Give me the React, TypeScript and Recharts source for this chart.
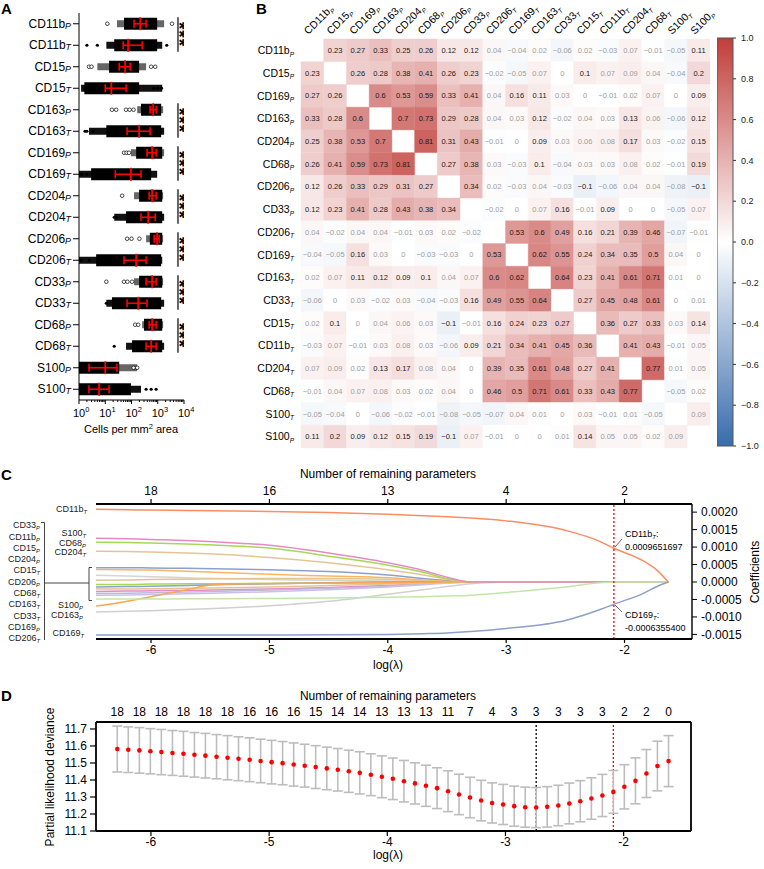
import React from 'react';
import {
  ScatterChart, Scatter, LineChart, Line, XAxis, YAxis, ErrorBar,
  ReferenceArea, ReferenceLine,
} from 'recharts';

const FONT = '"Liberation Sans", Arial, Helvetica, sans-serif';

// ---------- A: cells per mm2 ----------
const A_MARKERS = ['CD11bP', 'CD11bT', 'CD15P', 'CD15T', 'CD163P', 'CD163T', 'CD169P', 'CD169T', 'CD204P', 'CD204T',
  'CD206P', 'CD206T', 'CD33P', 'CD33T', 'CD68P', 'CD68T', 'S100P', 'S100T'];
const A_LOW = [28, 11, 5, 1.2, 165, 2.4, 95, 1, 125, 22, 360, 1, 125, 11, 255, 62, 1, 1];
const A_CORE_LOW = [52, 22, 14, 1.6, 230, 11, 150, 2.9, 195, 62, 500, 4.5, 195, 18, 300, 105, 1, 1];
const A_Q1 = [125, 48, 34, 10, 510, 68, 390, 24, 470, 230, 730, 52, 360, 68, 470, 360, 2.4, 2.4];
const A_MEDIAN = [215, 74, 57, 17, 670, 195, 610, 95, 610, 430, 950, 150, 610, 180, 610, 560, 10, 5.8];
const A_Q3 = [360, 255, 89, 62, 870, 510, 870, 230, 870, 800, 1130, 360, 870, 390, 870, 870, 28, 14];
const A_CORE_HIGH = [950, 950, 195, 195, 1350, 1350, 1480, 560, 1480, 1480, 1480, 1350, 1480, 1350, 1480, 1480, 34, 95];
const A_HIGH = [1750, 1480, 360, 1480, 1600, 1750, 1750, 950, 1600, 1750, 1600, 1480, 1600, 1750, 1600, 1750, 165, 230];
// isolated points [row, cells/mm2]
const A_POINTS = [
  [0, 12], [0, 3500], [1, 2], [1, 5], [1, 2200], [2, 2.4], [2, 3], [2, 560], [2, 800],
  [3, 700], [3, 1000], [3, 1400], [4, 18], [4, 26], [4, 62], [4, 85], [4, 120],
  [5, 1.7], [5, 2], [5, 3.5], [6, 52], [6, 65], [6, 80], [7, 1.05], [7, 1.3], [7, 2],
  [8, 44], [9, 22], [9, 28], [10, 68], [10, 100], [10, 200], [11, 1.05], [11, 1.2], [11, 2.5],
  [12, 11], [12, 52], [12, 70], [12, 105], [13, 11], [14, 138], [14, 180], [15, 22],
  [16, 120], [16, 165], [17, 360], [17, 560], [17, 870],
];
const A_SIG_ROWS = [0, 4, 6, 8, 10, 12, 14];
const A_TICKS = [1, 2, 3, 4, 5, 6, 7, 8, 9, 10, 20, 30, 40, 50, 60, 70, 80, 90, 100, 200, 300, 400, 500, 600, 700, 800, 900,
  1000, 2000, 3000, 4000, 5000, 6000, 7000, 8000, 9000, 10000];

// ---------- B: correlation heatmap ----------
const B_MARKERS = ['CD11bP', 'CD15P', 'CD169P', 'CD163P', 'CD204P', 'CD68P', 'CD206P', 'CD33P', 'CD206T', 'CD169T',
  'CD163T', 'CD33T', 'CD15T', 'CD11bT', 'CD204T', 'CD68T', 'S100T', 'S100P'];
const B_CORR = [
  [null, 0.23, 0.27, 0.33, 0.25, 0.26, 0.12, 0.12, 0.04, -0.04, 0.02, -0.06, 0.02, -0.03, 0.07, -0.01, -0.05, 0.11],
  [0.23, null, 0.26, 0.28, 0.38, 0.41, 0.26, 0.23, -0.02, -0.05, 0.07, 0, 0.1, 0.07, 0.09, 0.04, -0.04, 0.2],
  [0.27, 0.26, null, 0.6, 0.53, 0.59, 0.33, 0.41, 0.04, 0.16, 0.11, 0.03, 0, -0.01, 0.02, 0.07, 0, 0.09],
  [0.33, 0.28, 0.6, null, 0.7, 0.73, 0.29, 0.28, 0.04, 0.03, 0.12, -0.02, 0.04, 0.03, 0.13, 0.06, -0.06, 0.12],
  [0.25, 0.38, 0.53, 0.7, null, 0.81, 0.31, 0.43, -0.01, 0, 0.09, 0.03, 0.06, 0.08, 0.17, 0.03, -0.02, 0.15],
  [0.26, 0.41, 0.59, 0.73, 0.81, null, 0.27, 0.38, 0.03, -0.03, 0.1, -0.04, 0.03, 0.03, 0.08, 0.02, -0.01, 0.19],
  [0.12, 0.26, 0.33, 0.29, 0.31, 0.27, null, 0.34, 0.02, -0.03, 0.04, -0.03, -0.1, -0.06, 0.04, 0.04, -0.08, -0.1],
  [0.12, 0.23, 0.41, 0.28, 0.43, 0.38, 0.34, null, -0.02, 0, 0.07, 0.16, -0.01, 0.09, 0, 0, -0.05, 0.07],
  [0.04, -0.02, 0.04, 0.04, -0.01, 0.03, 0.02, -0.02, null, 0.53, 0.6, 0.49, 0.16, 0.21, 0.39, 0.46, -0.07, -0.01],
  [-0.04, -0.05, 0.16, 0.03, 0, -0.03, -0.03, 0, 0.53, null, 0.62, 0.55, 0.24, 0.34, 0.35, 0.5, 0.04, 0],
  [0.02, 0.07, 0.11, 0.12, 0.09, 0.1, 0.04, 0.07, 0.6, 0.62, null, 0.64, 0.23, 0.41, 0.61, 0.71, 0.01, 0],
  [-0.06, 0, 0.03, -0.02, 0.03, -0.04, -0.03, 0.16, 0.49, 0.55, 0.64, null, 0.27, 0.45, 0.48, 0.61, 0, 0.01],
  [0.02, 0.1, 0, 0.04, 0.06, 0.03, -0.1, -0.01, 0.16, 0.24, 0.23, 0.27, null, 0.36, 0.27, 0.33, 0.03, 0.14],
  [-0.03, 0.07, -0.01, 0.03, 0.08, 0.03, -0.06, 0.09, 0.21, 0.34, 0.41, 0.45, 0.36, null, 0.41, 0.43, -0.01, 0.05],
  [0.07, 0.09, 0.02, 0.13, 0.17, 0.08, 0.04, 0, 0.39, 0.35, 0.61, 0.48, 0.27, 0.41, null, 0.77, 0.01, 0.05],
  [-0.01, 0.04, 0.07, 0.08, 0.03, 0.02, 0.04, 0, 0.46, 0.5, 0.71, 0.61, 0.33, 0.43, 0.77, null, -0.05, 0.02],
  [-0.05, -0.04, 0, -0.06, -0.02, -0.01, -0.08, -0.05, -0.07, 0.04, 0.01, 0, 0.03, -0.01, 0.01, -0.05, null, 0.09],
  [0.11, 0.2, 0.09, 0.12, 0.15, 0.19, -0.1, 0.07, -0.01, 0, 0, 0.01, 0.14, 0.05, 0.05, 0.02, 0.09, null],
];
// not significant although |r| >= 0.09
const B_GRAY_PAIRS = [[1, 14], [14, 1], [16, 17], [17, 16]];
const B_BAR_TICKS = [1, 0.8, 0.6, 0.4, 0.2, 0, -0.2, -0.4, -0.6, -0.8, -1];

// ---------- C: lasso coefficient paths ----------
const C_LAMBDA = [-6.465, -6.2, -6.0, -5.7, -5.47, -5.0, -4.5, -4.0, -3.7, -3.5, -3.3, -3.0, -2.5, -2.2, -2.09, -1.85, -1.72, -1.63];
const C_CD33P = [0.00041, 0.00041, 0.0004, 0.00039, 0.00038, 0.00035, 0.0003, 0.0002, 0.0001, 0.00004, 0, 0, 0, 0, 0, 0, 0, 0];
const C_CD11BP = [0.00036, 0.00035, 0.00034, 0.00031, 0.00028, 0.00022, 0.00017, 0.00012, 0.00006, 0.00002, 0, 0, 0, 0, 0, 0, 0, 0];
const C_CD15P = [0.00019, 0.00017, 0.00015, 0.00012, 0.0001, 0.00007, 0.00005, 0.00003, 0.00001, 0, 0, 0, 0, 0, 0, 0, 0, 0];
const C_CD204P = [0.00005, 0.00006, 0.00007, 0.00008, 0.00009, 0.0001, 0.0001, 0.00008, 0.00004, 0.00001, 0, 0, 0, 0, 0, 0, 0, 0];
const C_CD15T = [-0.00007, -0.00007, -0.00006, -0.00005, -0.00005, -0.00004, -0.00003, -0.00002, -0.00001, 0, 0, 0, 0, 0, 0, 0, 0, 0];
const C_CD206P = [-0.00014, -0.00013, -0.00012, -0.0001, -0.00008, -0.00005, -0.00002, 0, 0, 0, 0, 0, 0, 0, 0, 0, 0, 0];
const C_CD68T = [-0.00027, -0.00026, -0.00025, -0.00024, -0.00023, -0.0002, -0.00016, -0.0001, -0.00005, -0.00002, 0, 0, 0, 0, 0, 0, 0, 0];
const C_CD163T = [-0.00033, -0.00032, -0.00031, -0.00029, -0.00027, -0.00023, -0.00018, -0.00012, -0.00006, -0.00002, 0, 0, 0, 0, 0, 0, 0, 0];
const C_CD33T = [-0.00038, -0.00037, -0.00036, -0.00034, -0.00032, -0.00028, -0.00022, -0.00014, -0.00008, -0.00003, 0, 0, 0, 0, 0, 0, 0, 0];
const C_CD169P = [-0.0002, -0.0002, -0.00019, -0.00018, -0.00017, -0.00014, -0.0001, -0.00006, -0.00003, -0.00001, 0, 0, 0, 0, 0, 0, 0, 0];
const C_S100P = [-0.00069, -0.00055, -0.00042, -0.00022, -0.00008, -0.00004, -0.00003, -0.00002, -0.00001, 0, 0, 0, 0, 0, 0, 0, 0, 0];
const C_CD163P = [-0.00086, -0.00084, -0.00082, -0.00079, -0.00076, -0.00068, -0.00055, -0.00035, -0.00022, -0.00013, -0.00005, 0, 0, 0, 0, 0, 0, 0];
const C_CD204T = [0.00088, 0.00087, 0.00086, 0.00083, 0.0008, 0.0007, 0.00055, 0.00035, 0.0002, 0.00008, 0, 0, 0, 0, 0, 0, 0, 0];
const C_CD68P = [0.00114, 0.00113, 0.00112, 0.00109, 0.00106, 0.00097, 0.00074, 0.00048, 0.00028, 0.0001, 0, 0, 0, 0, 0, 0, 0, 0];
const C_S100T = [0.00125, 0.00124, 0.00122, 0.00119, 0.00115, 0.00105, 0.00083, 0.00055, 0.00033, 0.00014, 0, 0, 0, 0, 0, 0, 0, 0];
const C_CD206T = [-0.00049, -0.00049, -0.00049, -0.00048, -0.00048, -0.00047, -0.00046, -0.00044, -0.00042, -0.0004, -0.00038, -0.0003, -0.00014, -0.00002, 0, 0, 0, 0];
const C_CD169T = [-0.00152, -0.00152, -0.00152, -0.00152, -0.00152, -0.00152, -0.00151, -0.0015, -0.00148, -0.00146, -0.00142, -0.00133, -0.0011, -0.00078, -0.000636, -0.00034, -0.00012, 0];
const C_CD11BT = [0.00208, 0.00207, 0.00206, 0.00205, 0.00204, 0.00202, 0.00199, 0.00194, 0.0019, 0.00187, 0.00183, 0.00175, 0.00148, 0.00115, 0.000965, 0.00062, 0.00032, 0];
const C_TICKS = [-6, -5, -4, -3, -2];
const C_TOP_COUNTS = [18, 16, 13, 4, 2];
const C_Y_TICKS = [0.002, 0.0015, 0.001, 0.0005, 0, -0.0005, -0.001, -0.0015];
const C_CUT = -2.09;

// ---------- D: cross-validation ----------
const D_LAMBDA = [-6.285, -6.192, -6.098, -6.005, -5.912, -5.818, -5.725, -5.632, -5.539, -5.445,
  -5.352, -5.259, -5.165, -5.072, -4.979, -4.886, -4.792, -4.699, -4.606, -4.512,
  -4.419, -4.326, -4.233, -4.139, -4.046, -3.953, -3.859, -3.766, -3.673, -3.579,
  -3.486, -3.393, -3.3, -3.206, -3.113, -3.02, -2.926, -2.833, -2.74, -2.647,
  -2.553, -2.46, -2.367, -2.273, -2.18, -2.087, -1.994, -1.9, -1.807, -1.714, -1.62];
const D_DEVIANCE = [11.582, 11.578, 11.574, 11.569, 11.564, 11.559, 11.554, 11.548, 11.543, 11.537,
  11.531, 11.525, 11.519, 11.512, 11.505, 11.499, 11.491, 11.484, 11.476, 11.468,
  11.46, 11.451, 11.442, 11.431, 11.419, 11.407, 11.393, 11.38, 11.366, 11.352,
  11.334, 11.315, 11.297, 11.279, 11.265, 11.256, 11.246, 11.24, 11.238, 11.242,
  11.25, 11.262, 11.275, 11.291, 11.309, 11.33, 11.36, 11.395, 11.438, 11.482, 11.511];
const D_SE = [0.135, 0.134, 0.134, 0.133, 0.133, 0.132, 0.132, 0.131, 0.131, 0.13,
  0.13, 0.129, 0.129, 0.128, 0.128, 0.127, 0.127, 0.126, 0.126, 0.125,
  0.125, 0.124, 0.124, 0.123, 0.123, 0.122, 0.122, 0.121, 0.121, 0.12,
  0.12, 0.119, 0.119, 0.119, 0.118, 0.118, 0.118, 0.118, 0.118, 0.119,
  0.119, 0.12, 0.121, 0.122, 0.124, 0.126, 0.13, 0.135, 0.141, 0.146, 0.15];
const D_COUNTS = [18, 18, 18, 18, 18, 18, 16, 16, 16, 15, 14, 14, 13, 13, 13, 11, 7, 4, 3, 3, 3, 3, 3, 2, 2, 0];
const D_Y_TICKS = [11.1, 11.2, 11.3, 11.4, 11.5, 11.6, 11.7];
const D_MIN = -2.74;
const D_1SE = -2.087;

const LOG_DOMAIN = [-6.465, -1.43];

// ---------- helpers ----------
const RED = [192, 62, 58];
const BLUE = [56, 108, 172];
const colorFor = (v: number) => {
  const t = Math.min(1, Math.abs(v));
  const end = v >= 0 ? RED : BLUE;
  return `rgb(${end.map((e) => Math.round(255 + (e - 255) * t)).join(',')})`;
};
const fmtCorr = (v: number) => (v < 0 ? '\u2212' : '') + String(Math.abs(v));
const Empty = () => <g />;

const Marker = ({ x, y, name, size, anchor = 'end', subScale = 0.65, drop = 2, fill = '#000' }: any) => (
  <text x={x} y={y} textAnchor={anchor} fontSize={size} fontFamily={FONT} fill={fill}>
    {name.slice(0, -1)}
    <tspan fontSize={size * subScale} fontStyle="italic" dy={drop}>{name.slice(-1)}</tspan>
  </text>
);

// ---------- A ----------
const aBlob = A_MARKERS.map((_, i) => ({
  x: A_CORE_LOW[i],
  row: i,
  tail: [A_CORE_LOW[i] - A_LOW[i], A_HIGH[i] - A_CORE_LOW[i]],
  core: [0, A_CORE_HIGH[i] - A_CORE_LOW[i]],
}));
const aBlobP = aBlob.filter((d) => d.row % 2 === 0);
const aBlobT = aBlob.filter((d) => d.row % 2 === 1);
const aSummary = A_MARKERS.map((_, i) => ({
  x: A_MEDIAN[i], row: i, iqr: [A_MEDIAN[i] - A_Q1[i], A_Q3[i] - A_MEDIAN[i]], tick: 0.3,
}));
const aPoints = A_POINTS.map(([row, x]) => ({ x, row }));
const aBrackets = A_SIG_ROWS.map((r) => ({ x: 5900, row: r + 0.5, span: 0.8 }));

const LogTick = (p: any) => {
  const v = p.payload.value;
  const e = Math.log10(v);
  const major = Math.abs(e - Math.round(e)) < 1e-9;
  return (
    <g>
      <line x1={p.x} x2={p.x} y1={p.y} y2={p.y + (major ? 4 : 2)} stroke="#000" strokeWidth={1} />
      {major && (
        <text x={p.x - 6} y={p.y + 17} textAnchor="start" fontSize={11} fontFamily={FONT} fill="#000">
          10<tspan dy={-5} fontSize={7.5}>{Math.round(e)}</tspan>
        </text>
      )}
    </g>
  );
};

const PointShape = (p: any) =>
  p.payload.row % 2 === 0
    ? <circle cx={p.cx} cy={p.cy} r={1.8} fill="#fff" stroke="#000" strokeWidth={0.7} />
    : <circle cx={p.cx} cy={p.cy} r={1.6} fill="#000" />;

// three stacked asterisks written as one vertical string
const Stars = (p: any) => (
  <text transform={`translate(${p.cx - 4.5},${p.cy}) rotate(90)`} textAnchor="middle" fontSize={19}
    fontWeight="bold" letterSpacing={1} fontFamily={FONT} fill="#000">***</text>
);

function PanelA() {
  return (
    <ScatterChart width={200} height={440} margin={{ top: 13, right: 16, bottom: 0, left: 0 }}>
      <XAxis type="number" dataKey="x" scale="log" domain={[1, 10000]} allowDataOverflow ticks={A_TICKS} interval={0}
        height={40} tickLine={false} tickSize={0} tickMargin={0} stroke="#000" tick={(p: any) => <LogTick {...p} />} />
      <YAxis type="number" dataKey="row" domain={[-0.5, 17.5]} reversed allowDataOverflow
        ticks={A_MARKERS.map((_, i) => i)} interval={0} width={79} tickSize={6} tickMargin={2} stroke="#000"
        tick={(p: any) => <Marker x={p.x} y={p.y + 4} name={A_MARKERS[p.payload.value]} size={12} subScale={0.74} drop={1} />} />
      <Scatter data={aBlobP} shape={Empty} isAnimationActive={false}>
        <ErrorBar dataKey="tail" direction="x" width={0} stroke="#666" strokeWidth={7} isAnimationActive={false} />
        <ErrorBar dataKey="core" direction="x" width={0} stroke="#000" strokeWidth={12} isAnimationActive={false} />
      </Scatter>
      <Scatter data={aBlobT} shape={Empty} isAnimationActive={false}>
        <ErrorBar dataKey="tail" direction="x" width={0} stroke="#111" strokeWidth={7} isAnimationActive={false} />
        <ErrorBar dataKey="core" direction="x" width={0} stroke="#000" strokeWidth={12} isAnimationActive={false} />
      </Scatter>
      <Scatter data={aPoints} shape={PointShape} isAnimationActive={false} />
      <Scatter data={aSummary} shape={Empty} isAnimationActive={false}>
        <ErrorBar dataKey="iqr" direction="x" width={4} stroke="#ff0000" strokeWidth={1.6} isAnimationActive={false} />
        <ErrorBar dataKey="tick" direction="y" width={0} stroke="#ff0000" strokeWidth={1.8} isAnimationActive={false} />
      </Scatter>
      <Scatter data={aBrackets} shape={Stars} isAnimationActive={false}>
        <ErrorBar dataKey="span" direction="y" width={0} stroke="#000" strokeWidth={1.2} isAnimationActive={false} />
      </Scatter>
    </ScatterChart>
  );
}

// ---------- B ----------
const bCells: { c: number; r: number; v: number; gray: boolean }[] = [];
B_CORR.forEach((row, r) => row.forEach((v, c) => {
  if (v === null) return;
  const gray = Math.abs(v) < 0.09 || B_GRAY_PAIRS.some(([a, b]) => a === r && b === c);
  bCells.push({ c, r, v, gray });
}));
const bIdx = B_MARKERS.map((_, i) => i);

const CellText = (p: any) => (
  <text x={p.cx} y={p.cy + 2.6} textAnchor="middle" fontSize={7.5} fontFamily={FONT}
    fill={p.payload.gray ? '#9d9d9d' : '#1b1b1b'}>{fmtCorr(p.payload.v)}</text>
);

function PanelB() {
  return (
    <ScatterChart width={517} height={460} margin={{ top: 0, right: 7, bottom: 12, left: 0 }}>
      <XAxis xAxisId="c" type="number" dataKey="c" orientation="top" domain={[-0.5, 17.5]} allowDataOverflow
        ticks={bIdx} interval={0} height={39} axisLine={false} tickLine={false} tickSize={0} tickMargin={4}
        tick={(p: any) => (
          <g transform={`translate(${p.x - 4},${p.y}) rotate(-45)`}>
            <Marker x={0} y={0} anchor="start" name={B_MARKERS[p.payload.value]} size={10.5} subScale={0.62} drop={2.5} />
          </g>
        )} />
      <YAxis yAxisId="r" type="number" dataKey="r" domain={[-0.5, 17.5]} reversed allowDataOverflow
        ticks={bIdx} interval={0} width={101} axisLine={false} tickLine={false} tickSize={0} tickMargin={7}
        tick={(p: any) => <Marker x={p.x} y={p.y + 3.7} name={B_MARKERS[p.payload.value]} size={10.5} subScale={0.62} drop={2.5} />} />
      {bCells.map((d) => (
        <ReferenceArea key={`${d.r}-${d.c}`} xAxisId="c" yAxisId="r" x1={d.c - 0.5} x2={d.c + 0.5} y1={d.r - 0.5} y2={d.r + 0.5}
          fill={colorFor(d.v)} fillOpacity={1} stroke={colorFor(d.v)} strokeWidth={0.4} />
      ))}
      <Scatter xAxisId="c" yAxisId="r" data={bCells} shape={CellText} isAnimationActive={false} />
    </ScatterChart>
  );
}

function ColorBar() {
  const ticks = B_BAR_TICKS.map((v) => ({ x: 0.5, v }));
  return (
    <ScatterChart width={47} height={460} margin={{ top: 38, right: 0, bottom: 14, left: 0 }}>
      <defs>
        <linearGradient id="cbar" x1="0" y1="0" x2="0" y2="1">
          {B_BAR_TICKS.map((v) => (
            <stop key={v} offset={`${((1 - v) / 2) * 100}%`} stopColor={colorFor(v)} />
          ))}
        </linearGradient>
      </defs>
      <XAxis type="number" dataKey="x" domain={[0, 1]} hide />
      <YAxis type="number" dataKey="v" orientation="right" domain={[-1, 1]} ticks={B_BAR_TICKS} interval={0}
        width={31} tickSize={3} tickMargin={5} axisLine={false} stroke="#333"
        tick={{ fontSize: 9, fill: '#222', fontFamily: FONT }}
        tickFormatter={(v: number) => (v < 0 ? '\u2212' : '') + Math.abs(v).toFixed(1)} />
      <ReferenceArea x1={0} x2={1} y1={-1} y2={1} fill="url(#cbar)" fillOpacity={1} stroke="#555" strokeWidth={1} />
      <Scatter data={ticks} shape={Empty} isAnimationActive={false} />
    </ScatterChart>
  );
}

// ---------- C ----------
const C_SERIES = [
  { key: 'CD33P', color: '#8da0cb', values: C_CD33P },
  { key: 'CD11bP', color: '#fdb462', values: C_CD11BP },
  { key: 'CD15P', color: '#d4d4d4', values: C_CD15P },
  { key: 'CD204P', color: '#e5c494', values: C_CD204P },
  { key: 'CD15T', color: '#a6d854', values: C_CD15T },
  { key: 'CD206P', color: '#8da0cb', values: C_CD206P },
  { key: 'CD68T', color: '#e78ac3', values: C_CD68T },
  { key: 'CD163T', color: '#bebada', values: C_CD163T },
  { key: 'CD33T', color: '#c9c0ea', values: C_CD33T },
  { key: 'CD169P', color: '#e5c494', values: C_CD169P },
  { key: 'S100P', color: '#ffa64d', values: C_S100P },
  { key: 'CD163P', color: '#d0d0d0', values: C_CD163P },
  { key: 'CD204T', color: '#e5c494', values: C_CD204T },
  { key: 'CD68P', color: '#a6d854', values: C_CD68P },
  { key: 'S100T', color: '#e78ac3', values: C_S100T },
  { key: 'CD206T', color: '#c2e6a8', values: C_CD206T },
  { key: 'CD169T', color: '#8da0cb', values: C_CD169T },
  { key: 'CD11bT', color: '#fc8d62', values: C_CD11BT },
];
const cData = C_LAMBDA.map((x, i) => {
  const row: any = { x };
  C_SERIES.forEach((s) => { row[s.key] = s.values[i]; });
  return row;
});

function PanelC() {
  return (
    <LineChart width={764} height={240} data={cData} margin={{ top: 40, right: 0, bottom: 21, left: 96 }}>
      <XAxis xAxisId="t" type="number" dataKey="x" orientation="top" domain={LOG_DOMAIN} allowDataOverflow
        ticks={C_TICKS} interval={0} height={24} tickSize={5} tickMargin={3} stroke="#000"
        axisLine={{ stroke: '#000', strokeWidth: 1.8 }} tickLine={{ stroke: '#000', strokeWidth: 1.2 }}
        tick={(p: any) => (
          <text x={p.x} y={p.y - 1} textAnchor="middle" fontSize={12} fontFamily={FONT} fill="#000">
            {C_TOP_COUNTS[C_TICKS.indexOf(p.payload.value)]}
          </text>
        )} />
      <XAxis xAxisId="b" type="number" dataKey="x" domain={LOG_DOMAIN} allowDataOverflow ticks={C_TICKS} interval={0}
        height={20} tickSize={4} tickMargin={2} stroke="#000" axisLine={{ stroke: '#000', strokeWidth: 1.8 }}
        tickLine={{ stroke: '#000', strokeWidth: 1.2 }} tick={{ fontSize: 12, fill: '#000', fontFamily: FONT }} />
      <YAxis yAxisId="r" orientation="right" type="number" domain={[-0.001632, 0.002233]} allowDataOverflow
        ticks={C_Y_TICKS} interval={0} width={72} tickSize={5} tickMargin={4} stroke="#000"
        axisLine={{ stroke: '#000', strokeWidth: 1.4 }} tick={{ fontSize: 12, fill: '#000', fontFamily: FONT }}
        tickFormatter={(v: number) => v.toFixed(4)} />
      {C_SERIES.map((s) => (
        <Line key={s.key} xAxisId="b" yAxisId="r" dataKey={s.key} type="monotone" stroke={s.color} strokeWidth={1.5}
          dot={false} activeDot={false} isAnimationActive={false} />
      ))}
      <ReferenceLine xAxisId="b" yAxisId="r" x={C_CUT} stroke="#ff0000" strokeDasharray="2 2" strokeWidth={1.3} />
    </LineChart>
  );
}

// ---------- D ----------
const dData = D_LAMBDA.map((x, i) => ({ x, y: D_DEVIANCE[i], se: D_SE[i] }));
const dTopTicks = D_LAMBDA.filter((_, i) => i % 2 === 0);
const RedDot = (p: any) => <circle cx={p.cx} cy={p.cy} r={2.3} fill="#ff0000" />;

function PanelD() {
  return (
    <ScatterChart width={764} height={189} margin={{ top: 28, right: 72, bottom: 18, left: 0 }}>
      <XAxis xAxisId="t" orientation="top" type="number" dataKey="x" domain={LOG_DOMAIN} allowDataOverflow
        ticks={dTopTicks} interval={0} height={14} tickSize={0} tickMargin={5} tickLine={false}
        axisLine={{ stroke: '#000', strokeWidth: 1.8 }}
        tick={(p: any) => (
          <text x={p.x} y={p.y - 1} textAnchor="middle" fontSize={12} fontFamily={FONT} fill="#000">
            {D_COUNTS[D_LAMBDA.indexOf(p.payload.value) / 2]}
          </text>
        )} />
      <XAxis xAxisId="b" type="number" dataKey="x" domain={LOG_DOMAIN} allowDataOverflow ticks={C_TICKS} interval={0}
        height={20} tickSize={5} tickMargin={1} stroke="#000" axisLine={{ stroke: '#000', strokeWidth: 1.8 }}
        tickLine={{ stroke: '#000', strokeWidth: 1.2 }} tick={{ fontSize: 12, fill: '#000', fontFamily: FONT }} />
      <YAxis yAxisId="l" type="number" dataKey="y" domain={[11.1, 11.741]} allowDataOverflow ticks={D_Y_TICKS}
        interval={0} width={96} tickSize={6} tickMargin={3} stroke="#000"
        axisLine={{ stroke: '#000', strokeWidth: 1.8 }} tickLine={{ stroke: '#000', strokeWidth: 1.2 }}
        tick={{ fontSize: 12, fill: '#000', fontFamily: FONT }} tickFormatter={(v: number) => v.toFixed(1)} />
      <YAxis yAxisId="r" orientation="right" type="number" dataKey="y" domain={[11.1, 11.741]} allowDataOverflow
        width={1} tick={false} tickLine={false} axisLine={{ stroke: '#000', strokeWidth: 1.8 }} />
      <ReferenceLine xAxisId="b" yAxisId="l" x={D_MIN} stroke="#000" strokeDasharray="2 2" strokeWidth={1.3} />
      <ReferenceLine xAxisId="b" yAxisId="l" x={D_1SE} stroke="#ff0000" strokeDasharray="2 2" strokeWidth={1.3} />
      <Scatter xAxisId="b" yAxisId="l" data={dData} shape={RedDot} isAnimationActive={false}>
        <ErrorBar dataKey="se" direction="y" width={5} stroke="#bdbdbd" strokeWidth={1.6} isAnimationActive={false} />
      </Scatter>
    </ScatterChart>
  );
}

// ---------- text overlay ----------
const C_OUTER = ['CD33P', 'CD11bP', 'CD15P', 'CD204P', 'CD15T', 'CD206P', 'CD68T', 'CD163T', 'CD33T', 'CD169P', 'CD206T'];

function Overlay() {
  const lab = (name: string, x: number, yc: number, key?: string) => (
    <Marker key={key ?? name} x={x} y={yc + 3.2} name={name} size={9} subScale={0.65} drop={2} fill="#222" />
  );
  return (
    <svg width={764} height={869} style={{ position: 'absolute', left: 0, top: 0, pointerEvents: 'none' }}>
      <g fontFamily={FONT} fontWeight="bold" fontSize={15} fill="#000">
        <text x={1} y={14}>A</text>
        <text x={256} y={14}>B</text>
        <text x={1} y={480}>C</text>
        <text x={1} y={701}>D</text>
      </g>
      <text x={131} y={433} textAnchor="middle" fontSize={11} fontFamily={FONT}>
        Cells per mm<tspan dy={-4} fontSize={7.5}>2</tspan><tspan dy={4}> area</tspan>
      </text>

      {/* C titles */}
      <text x={388} y={478} textAnchor="middle" fontSize={12} fontFamily={FONT}>Number of remaining parameters</text>
      <text x={388} y={669} textAnchor="middle" fontSize={12} fontFamily={FONT}>log(λ)</text>
      <text transform="translate(759,572) rotate(-90)" textAnchor="middle" fontSize={12} fontFamily={FONT}>Coefficients</text>

      {/* C left labels */}
      {lab('CD11bT', 87, 509)}
      {lab('S100T', 86, 533)}
      {lab('CD68P', 86, 542.5)}
      {lab('CD204T', 86, 552)}
      {lab('S100P', 83, 605, 'S100P-l')}
      {lab('CD163P', 83, 614.5)}
      {lab('CD169T', 84, 633)}
      {C_OUTER.map((n, i) => lab(n, 40, 525 + i * 11.3, `o-${n}`))}
      <g stroke="#444" strokeWidth={1} fill="none">
        <path d="M41,522.5 H44.5 V640" />
        <line x1={44.5} y1={583} x2={89} y2={583} />
        <path d="M92,567.5 H89 V600.5 H92" />
      </g>

      {/* C annotations */}
      <g stroke="#444" strokeWidth={0.8}>
        <line x1={615} y1={547} x2={622} y2={539} />
        <line x1={615} y1={605} x2={622} y2={612} />
      </g>
      <text x={625} y={536.5} fontSize={9} fontFamily={FONT}>CD11b<tspan fontSize={6} fontStyle="italic" dy={2}>T</tspan><tspan dy={-2}>:</tspan></text>
      <text x={625} y={549.5} fontSize={9} fontFamily={FONT}>0.0009651697</text>
      <text x={625} y={618} fontSize={9} fontFamily={FONT}>CD169<tspan fontSize={6} fontStyle="italic" dy={2}>T</tspan><tspan dy={-2}>:</tspan></text>
      <text x={625} y={630.5} fontSize={9} fontFamily={FONT}>-0.0006355400</text>

      {/* D titles */}
      <text x={388} y={700} textAnchor="middle" fontSize={12} fontFamily={FONT}>Number of remaining parameters</text>
      <text x={388} y={859} textAnchor="middle" fontSize={12} fontFamily={FONT}>log(λ)</text>
      <text transform="translate(54,777) rotate(-90)" textAnchor="middle" fontSize={12} fontFamily={FONT}>Partial likelihood deviance</text>
    </svg>
  );
}

export default function App() {
  return (
    <div style={{ position: 'absolute', left: 0, top: 0, width: 764, height: 869, background: '#fff', fontFamily: FONT }}>
      <div style={{ position: 'absolute', left: 0, top: 0 }}><PanelA /></div>
      <div style={{ position: 'absolute', left: 200, top: 0 }}><PanelB /></div>
      <div style={{ position: 'absolute', left: 717, top: 0 }}><ColorBar /></div>
      <div style={{ position: 'absolute', left: 0, top: 440 }}><PanelC /></div>
      <div style={{ position: 'absolute', left: 0, top: 680 }}><PanelD /></div>
      <Overlay />
    </div>
  );
}
